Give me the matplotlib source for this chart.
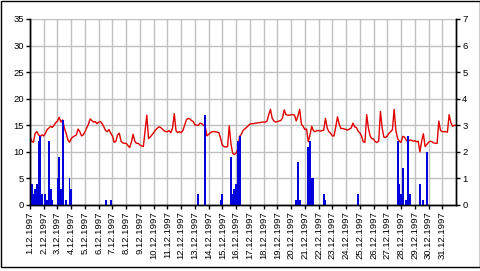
import numpy as np
import matplotlib.pyplot as plt
from matplotlib.patches import Rectangle

plt.rcParams['font.family'] = ['Liberation Sans', 'DejaVu Sans']

# Temperature, 3-hourly readings (8 per day), December 1997
temp_by_day = [
    [12.9, 12.0, 11.8, 13.5, 13.8, 13.2, 12.9, 13.2],   # 1
    [13.0, 13.5, 14.2, 14.5, 14.8, 14.6, 15.0, 15.5],   # 2
    [15.8, 16.5, 15.6, 16.0, 14.5, 13.5, 12.3, 11.8],   # 3
    [12.5, 12.8, 13.0, 13.2, 14.3, 13.8, 13.0, 13.2],   # 4
    [13.8, 14.5, 15.2, 16.2, 15.9, 15.6, 15.7, 15.3],   # 5
    [15.6, 15.7, 15.3, 14.7, 14.0, 13.8, 14.2, 13.5],   # 6
    [13.0, 11.8, 12.0, 13.2, 13.5, 12.0, 11.7, 11.6],   # 7
    [11.6, 11.2, 10.8, 11.8, 13.3, 12.0, 11.6, 11.6],   # 8
    [11.3, 11.1, 11.0, 14.0, 16.9, 12.5, 12.8, 13.2],   # 9
    [13.6, 14.1, 14.4, 14.7, 14.6, 14.3, 14.0, 13.8],   # 10
    [13.8, 14.0, 13.6, 14.5, 17.2, 14.0, 13.6, 13.8],   # 11
    [13.6, 14.0, 15.0, 16.0, 16.3, 16.2, 15.9, 15.7],   # 12
    [15.1, 15.0, 15.0, 15.4, 15.3, 15.0, 14.8, 13.0],   # 13
    [13.3, 13.6, 13.8, 13.8, 13.8, 13.7, 13.6, 12.5],   # 14
    [11.2, 11.0, 10.9, 11.0, 14.9, 11.5, 9.7, 9.5],     # 15
    [9.8, 10.5, 12.9, 13.3, 14.0, 14.3, 14.6, 14.9],    # 16
    [15.2, 15.3, 15.3, 15.4, 15.4, 15.5, 15.5, 15.6],   # 17
    [15.6, 15.6, 15.8, 17.0, 18.0, 16.3, 15.8, 15.6],   # 18
    [15.7, 15.8, 15.9, 16.4, 17.9, 17.0, 16.9, 16.9],   # 19
    [17.0, 17.0, 16.9, 15.8, 16.8, 18.0, 15.2, 14.8],   # 20
    [14.2, 14.3, 11.9, 13.2, 14.8, 14.0, 13.8, 14.0],   # 21
    [14.0, 13.9, 14.0, 14.1, 16.3, 14.5, 13.8, 13.5],   # 22
    [13.0, 13.0, 14.7, 16.6, 15.2, 14.4, 14.4, 14.3],   # 23
    [14.2, 14.1, 14.3, 14.5, 15.4, 14.7, 14.6, 13.9],   # 24
    [13.6, 13.0, 11.9, 11.8, 17.0, 14.5, 13.0, 12.5],   # 25
    [12.4, 11.9, 11.8, 12.0, 17.6, 14.5, 12.8, 12.7],   # 26
    [13.0, 13.5, 13.8, 14.2, 18.0, 14.0, 12.5, 12.0],   # 27
    [11.8, 12.9, 12.8, 12.2, 11.9, 12.2, 12.2, 12.0],   # 28
    [12.1, 11.9, 12.0, 10.0, 12.0, 13.4, 11.0, 11.4],   # 29
    [11.8, 12.0, 11.9, 11.7, 11.6, 11.6, 15.8, 14.0],   # 30
    [13.8, 13.8, 13.8, 13.7, 17.0, 15.5, 14.8, 15.0],   # 31
]
temp_end = 15.0

# Precipitation: hour since 1.12.1997 00:00 and amount (right axis)
rain_hours = [3, 6, 9, 12, 15, 18, 21, 27, 30, 33, 36, 39, 48, 51, 54, 57, 63, 69, 72,
              132, 142,
              294, 306, 333, 336, 351, 354, 357, 360, 363, 366,
              465, 468, 471, 486, 489, 492, 495, 513, 516,
              573,
              642, 645, 648, 651, 657, 660, 663, 681, 687, 693]
rain_mm = [0.8, 0.4, 0.6, 0.8, 2.4, 2.6, 0.4, 0.4, 0.2, 2.4, 0.6, 0.2, 1.0, 1.8, 0.6, 3.2, 0.2, 1.0, 0.6,
           0.2, 0.2,
           0.4, 3.4, 0.2, 0.4, 1.8, 0.4, 0.6, 0.8, 2.4, 2.6,
           0.2, 1.6, 0.2, 2.2, 2.4, 1.0, 1.0, 0.4, 0.2,
           0.4,
           2.4, 0.8, 0.4, 1.4, 0.2, 2.6, 0.4, 0.8, 0.2, 2.0]

day_labels = [f"{d}.12.1997" for d in range(1, 32)]

temp = np.append(np.array(temp_by_day).ravel(), temp_end)
t_temp = np.arange(len(temp)) * 3 / 24
t_rain = np.array(rain_hours) / 24

fig = plt.figure(figsize=(4.81, 2.71), dpi=100)
ax = fig.add_axes([30 / 481, 66 / 271, 426 / 481, 186 / 271])
ax2 = ax.twinx()

ax.plot(t_temp, temp, color='#e00000', lw=1.0)
ax2.bar(t_rain, rain_mm, width=3.4 / 24, color='#0000dd', linewidth=0)

ax.set_xlim(0, 31)
ax.set_ylim(0, 35)
ax2.set_ylim(0, 7)
ax.set_yticks(range(0, 36, 5))
ax2.set_yticks(range(0, 8))
ax.set_xticks(range(31))
ax.set_xticklabels(day_labels, rotation=90)

ax.grid(True, color='#c0c0c0', lw=1)
ax.set_axisbelow(True)
for a in (ax, ax2):
    a.spines['top'].set_visible(False)
    for s in ('left', 'right', 'bottom'):
        a.spines[s].set_linewidth(1)
ax.tick_params(axis='both', labelsize=6.8, length=3, width=1, pad=1.5, direction='out')
ax2.tick_params(axis='y', labelsize=6.8, length=3, width=1, pad=1.5, direction='out')

fig.patches.append(Rectangle((0.5 / 481, 4.5 / 271), 479.5 / 481, 266 / 271, transform=fig.transFigure,
                             fill=False, edgecolor='black', lw=1))

fig.savefig('out.png', dpi=100)
